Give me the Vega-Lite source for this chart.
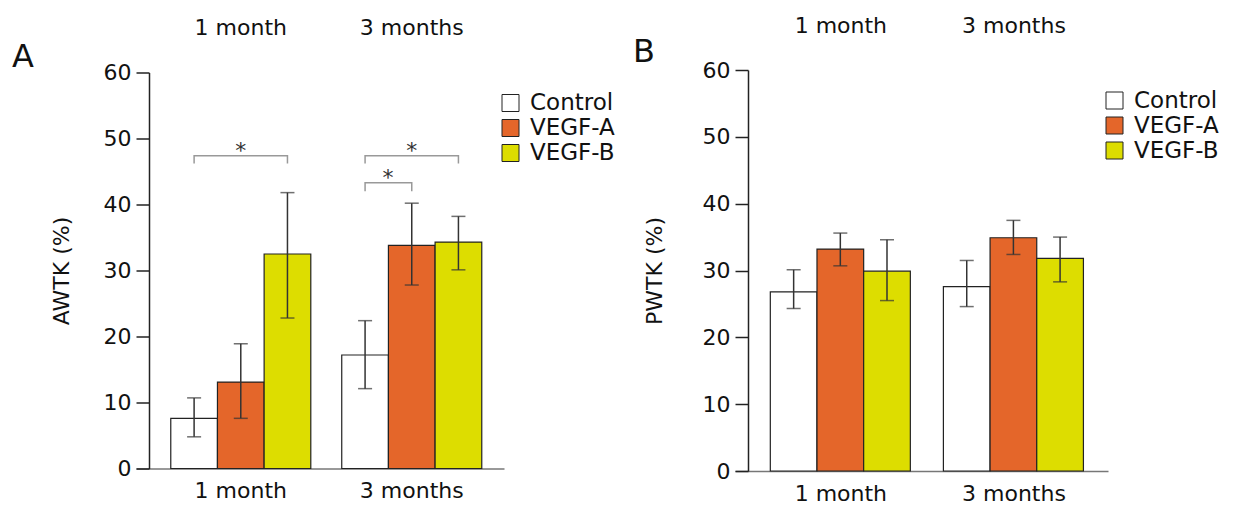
{
  "$schema": "https://vega.github.io/schema/vega-lite/v6.json",
  "background": "white",
  "padding": {"left": 12, "top": 14, "right": 4, "bottom": 0},
  "config": {
    "font": "DejaVu Sans",
    "view": {"stroke": null},
    "axis": {"labelFont": "DejaVu Sans", "titleFont": "DejaVu Sans", "labelColor": "#111", "titleColor": "#111", "grid": false},
    "legend": {"labelFont": "DejaVu Sans", "labelFontSize": 23, "labelColor": "#111", "symbolType": "square", "symbolSize": 289, "symbolStrokeColor": "#222", "symbolStrokeWidth": 1, "labelOffset": 8, "rowPadding": 1, "padding": 0},
    "title": {"font": "DejaVu Sans", "fontSize": 32, "fontWeight": "normal", "color": "#111"}
  },
  "datasets": {
    "bars": [
      {"panel": "A", "time": "1 month", "group": "Control", "value": 7.6, "lo": 4.8, "hi": 10.7},
      {"panel": "A", "time": "1 month", "group": "VEGF-A", "value": 13.1, "lo": 7.6, "hi": 18.9},
      {"panel": "A", "time": "1 month", "group": "VEGF-B", "value": 32.5, "lo": 22.8, "hi": 41.8},
      {"panel": "A", "time": "3 months", "group": "Control", "value": 17.2, "lo": 12.1, "hi": 22.4},
      {"panel": "A", "time": "3 months", "group": "VEGF-A", "value": 33.8, "lo": 27.8, "hi": 40.2},
      {"panel": "A", "time": "3 months", "group": "VEGF-B", "value": 34.3, "lo": 30.1, "hi": 38.2},
      {"panel": "B", "time": "1 month", "group": "Control", "value": 26.8, "lo": 24.3, "hi": 30.1},
      {"panel": "B", "time": "1 month", "group": "VEGF-A", "value": 33.2, "lo": 30.7, "hi": 35.6},
      {"panel": "B", "time": "1 month", "group": "VEGF-B", "value": 29.9, "lo": 25.5, "hi": 34.6},
      {"panel": "B", "time": "3 months", "group": "Control", "value": 27.6, "lo": 24.6, "hi": 31.5},
      {"panel": "B", "time": "3 months", "group": "VEGF-A", "value": 34.9, "lo": 32.4, "hi": 37.5},
      {"panel": "B", "time": "3 months", "group": "VEGF-B", "value": 31.8, "lo": 28.3, "hi": 35.0}
    ],
    "brackets": [
      {"bracket": "b1", "time": "1 month", "group": "Control", "y": 46.2, "o": 1},
      {"bracket": "b1", "time": "1 month", "group": "Control", "y": 47.4, "o": 2},
      {"bracket": "b1", "time": "1 month", "group": "VEGF-B", "y": 47.4, "o": 3},
      {"bracket": "b1", "time": "1 month", "group": "VEGF-B", "y": 46.2, "o": 4},
      {"bracket": "b2", "time": "3 months", "group": "Control", "y": 46.2, "o": 1},
      {"bracket": "b2", "time": "3 months", "group": "Control", "y": 47.4, "o": 2},
      {"bracket": "b2", "time": "3 months", "group": "VEGF-B", "y": 47.4, "o": 3},
      {"bracket": "b2", "time": "3 months", "group": "VEGF-B", "y": 46.2, "o": 4},
      {"bracket": "b3", "time": "3 months", "group": "Control", "y": 42.0, "o": 1},
      {"bracket": "b3", "time": "3 months", "group": "Control", "y": 43.3, "o": 2},
      {"bracket": "b3", "time": "3 months", "group": "VEGF-A", "y": 43.3, "o": 3},
      {"bracket": "b3", "time": "3 months", "group": "VEGF-A", "y": 42.0, "o": 4}
    ],
    "stars": [
      {"time": "1 month", "group": "VEGF-A", "y": 47.0, "label": "*", "between": false},
      {"time": "3 months", "group": "VEGF-A", "y": 47.0, "label": "*", "between": false},
      {"time": "3 months", "group": "Control", "y": 42.9, "label": "*", "between": true}
    ]
  },
  "spacing": 18,
  "center": true,
  "resolve": {"scale": {"color": "independent"}, "legend": {"color": "independent"}},
  "hconcat": [
    {
      "width": 368,
      "height": 396,
      "title": {"text": "A", "anchor": "start", "frame": "bounds", "offset": -57, "dx": -38},
      "layer": [
        {
          "data": {"name": "bars"},
          "transform": [{"filter": "datum.panel === 'A'"}],
          "mark": {"type": "bar", "stroke": "#222", "strokeWidth": 1.2},
          "encoding": {
            "x": {"field": "time", "type": "nominal", "sort": ["1 month", "3 months"],
                  "scale": {"paddingInner": 0.181, "paddingOuter": 0.1667, "align": 0.61},
                  "axis": {"orient": "bottom", "title": null, "labelAngle": 0, "ticks": false, "labelFontSize": 22, "labelPadding": 12, "domainColor": "#777", "domainWidth": 1.5}},
            "xOffset": {"field": "group", "type": "nominal", "sort": ["Control", "VEGF-A", "VEGF-B"], "scale": {"paddingInner": 0, "paddingOuter": 0}},
            "y": {"field": "value", "type": "quantitative", "scale": {"domain": [0, 60], "nice": false},
                  "axis": {"title": "AWTK (%)", "values": [0, 10, 20, 30, 40, 50, 60], "offset": -13, "tickSize": 13, "labelPadding": 5, "titlePadding": 30, "labelFontSize": 22, "titleFontSize": 22, "titleFontWeight": "normal", "domainColor": "#222", "tickColor": "#222", "domainWidth": 1.5, "tickWidth": 1.5}},
            "color": {"field": "group", "type": "nominal", "sort": ["Control", "VEGF-A", "VEGF-B"],
                      "scale": {"domain": ["Control", "VEGF-A", "VEGF-B"], "range": ["#ffffff", "#e4662a", "#dddd00"]},
                      "legend": {"title": null, "orient": "none", "legendX": 363, "legendY": 19}}
          }
        },
        {
          "data": {"name": "bars"},
          "transform": [{"filter": "datum.panel === 'A'"}],
          "mark": {"type": "rule", "color": "#333", "strokeWidth": 1.5},
          "encoding": {
            "x": {"field": "time", "type": "nominal", "sort": ["1 month", "3 months"],
                  "axis": {"orient": "top", "title": null, "labelAngle": 0, "ticks": false, "domain": false, "labelFontSize": 22, "labelPadding": 33}},
            "xOffset": {"field": "group", "type": "nominal", "sort": ["Control", "VEGF-A", "VEGF-B"]},
            "y": {"field": "lo", "type": "quantitative"},
            "y2": {"field": "hi"}
          }
        },
        {
          "data": {"name": "bars"},
          "transform": [{"filter": "datum.panel === 'A'"}],
          "mark": {"type": "tick", "color": "#333", "size": 14, "thickness": 1.5},
          "encoding": {
            "x": {"field": "time", "type": "nominal", "sort": ["1 month", "3 months"], "axis": null},
            "xOffset": {"field": "group", "type": "nominal", "sort": ["Control", "VEGF-A", "VEGF-B"]},
            "y": {"field": "lo", "type": "quantitative"}
          }
        },
        {
          "data": {"name": "bars"},
          "transform": [{"filter": "datum.panel === 'A'"}],
          "mark": {"type": "tick", "color": "#333", "size": 14, "thickness": 1.5},
          "encoding": {
            "x": {"field": "time", "type": "nominal", "sort": ["1 month", "3 months"], "axis": null},
            "xOffset": {"field": "group", "type": "nominal", "sort": ["Control", "VEGF-A", "VEGF-B"]},
            "y": {"field": "hi", "type": "quantitative"}
          }
        },
        {
          "data": {"name": "brackets"},
          "mark": {"type": "line", "color": "#999", "strokeWidth": 1.5},
          "encoding": {
            "x": {"field": "time", "type": "nominal", "sort": ["1 month", "3 months"], "axis": null},
            "xOffset": {"field": "group", "type": "nominal", "sort": ["Control", "VEGF-A", "VEGF-B"]},
            "y": {"field": "y", "type": "quantitative"},
            "detail": {"field": "bracket"},
            "order": {"field": "o"}
          }
        },
        {
          "data": {"name": "stars"},
          "transform": [{"filter": "!datum.between"}],
          "mark": {"type": "text", "fontSize": 22, "color": "#333", "baseline": "alphabetic"},
          "encoding": {
            "x": {"field": "time", "type": "nominal", "sort": ["1 month", "3 months"], "axis": null},
            "xOffset": {"field": "group", "type": "nominal", "sort": ["Control", "VEGF-A", "VEGF-B"]},
            "y": {"field": "y", "type": "quantitative"},
            "text": {"field": "label"}
          }
        },
        {
          "data": {"name": "stars"},
          "transform": [{"filter": "datum.between"}],
          "mark": {"type": "text", "fontSize": 22, "color": "#333", "baseline": "alphabetic", "dx": 23},
          "encoding": {
            "x": {"field": "time", "type": "nominal", "sort": ["1 month", "3 months"], "axis": null},
            "xOffset": {"field": "group", "type": "nominal", "sort": ["Control", "VEGF-A", "VEGF-B"]},
            "y": {"field": "y", "type": "quantitative"},
            "text": {"field": "label"}
          }
        }
      ]
    },
    {
      "width": 373,
      "height": 401,
      "title": {"text": "B", "anchor": "start", "frame": "bounds", "offset": -55, "dx": -10},
      "layer": [
        {
          "data": {"name": "bars"},
          "transform": [{"filter": "datum.panel === 'B'"}],
          "mark": {"type": "bar", "stroke": "#222", "strokeWidth": 1.2},
          "encoding": {
            "x": {"field": "time", "type": "nominal", "sort": ["1 month", "3 months"],
                  "scale": {"paddingInner": 0.185, "paddingOuter": 0.17, "align": 0.6},
                  "axis": {"orient": "bottom", "title": null, "labelAngle": 0, "ticks": false, "labelFontSize": 22, "labelPadding": 12, "domainColor": "#777", "domainWidth": 1.5}},
            "xOffset": {"field": "group", "type": "nominal", "sort": ["Control", "VEGF-A", "VEGF-B"], "scale": {"paddingInner": 0, "paddingOuter": 0}},
            "y": {"field": "value", "type": "quantitative", "scale": {"domain": [0, 60], "nice": false},
                  "axis": {"title": "PWTK (%)", "values": [0, 10, 20, 30, 40, 50, 60], "offset": -13, "tickSize": 13, "labelPadding": 5, "titlePadding": 36, "labelFontSize": 22, "titleFontSize": 22, "titleFontWeight": "normal", "domainColor": "#222", "tickColor": "#222", "domainWidth": 1.5, "tickWidth": 1.5}},
            "color": {"field": "group", "type": "nominal", "sort": ["Control", "VEGF-A", "VEGF-B"],
                      "scale": {"domain": ["Control", "VEGF-A", "VEGF-B"], "range": ["#ffffff", "#e4662a", "#dddd00"]},
                      "legend": {"title": null, "orient": "none", "legendX": 368, "legendY": 19}}
          }
        },
        {
          "data": {"name": "bars"},
          "transform": [{"filter": "datum.panel === 'B'"}],
          "mark": {"type": "rule", "color": "#333", "strokeWidth": 1.5},
          "encoding": {
            "x": {"field": "time", "type": "nominal", "sort": ["1 month", "3 months"],
                  "axis": {"orient": "top", "title": null, "labelAngle": 0, "ticks": false, "domain": false, "labelFontSize": 22, "labelPadding": 33}},
            "xOffset": {"field": "group", "type": "nominal", "sort": ["Control", "VEGF-A", "VEGF-B"]},
            "y": {"field": "lo", "type": "quantitative"},
            "y2": {"field": "hi"}
          }
        },
        {
          "data": {"name": "bars"},
          "transform": [{"filter": "datum.panel === 'B'"}],
          "mark": {"type": "tick", "color": "#333", "size": 14, "thickness": 1.5},
          "encoding": {
            "x": {"field": "time", "type": "nominal", "sort": ["1 month", "3 months"], "axis": null},
            "xOffset": {"field": "group", "type": "nominal", "sort": ["Control", "VEGF-A", "VEGF-B"]},
            "y": {"field": "lo", "type": "quantitative"}
          }
        },
        {
          "data": {"name": "bars"},
          "transform": [{"filter": "datum.panel === 'B'"}],
          "mark": {"type": "tick", "color": "#333", "size": 14, "thickness": 1.5},
          "encoding": {
            "x": {"field": "time", "type": "nominal", "sort": ["1 month", "3 months"], "axis": null},
            "xOffset": {"field": "group", "type": "nominal", "sort": ["Control", "VEGF-A", "VEGF-B"]},
            "y": {"field": "hi", "type": "quantitative"}
          }
        }
      ]
    }
  ]
}
